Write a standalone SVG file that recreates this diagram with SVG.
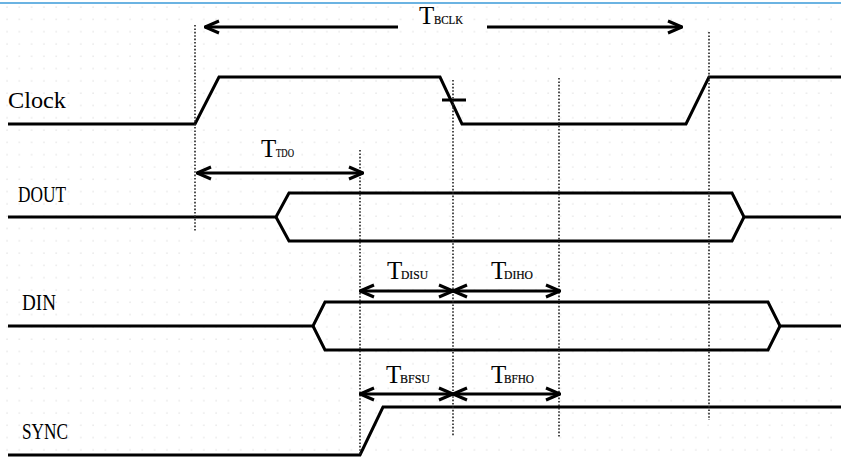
<svg xmlns="http://www.w3.org/2000/svg" width="841" height="458" viewBox="0 0 841 458">
<style>
.sig{fill:none;stroke:#000;stroke-width:3;stroke-linejoin:miter}
.dot{fill:none;stroke:#222;stroke-width:1.6;stroke-dasharray:1.6 1.8}
.arr{fill:none;stroke:#000;stroke-width:3}
.lbl{font-family:"Liberation Serif",serif;font-size:23px;fill:#000}
.T{font-family:"Liberation Serif",serif;font-size:25px;fill:#000}
.sub{font-family:"Liberation Serif",serif;font-size:13px;fill:#000;stroke:#000;stroke-width:0.2}
</style>
<defs>
<pattern id="grid" x="6" y="6" width="12.3" height="12.3" patternUnits="userSpaceOnUse">
<circle cx="1" cy="1" r="0.6" fill="#c8c8c8"/>
</pattern>
<marker id="ah" viewBox="-16 -8 17 16" refX="0" refY="0" markerWidth="17" markerHeight="16" markerUnits="userSpaceOnUse" orient="auto-start-reverse">
<path d="M-14,-6 L0,0 L-14,6" fill="none" stroke="#000" stroke-width="3"/>
</marker>
</defs>
<rect width="841" height="458" fill="#fff"/>
<rect width="841" height="458" fill="url(#grid)"/>
<line x1="0" y1="3" x2="841" y2="3" stroke="#3a9ad9" stroke-width="1.5"/>

<g id="clock">
<text class="lbl" x="8" y="108" textLength="58" lengthAdjust="spacingAndGlyphs">Clock</text>
<polyline class="sig" points="8,124 195,124 219,77 440,77 462,124 686,124 709,77 841,77"/>
<line class="sig" x1="442" y1="100" x2="466" y2="100"/>
</g>
<g id="dout">
<text class="lbl" x="18" y="202" textLength="48" lengthAdjust="spacingAndGlyphs">DOUT</text>
<polyline class="sig" points="8,217 276,217 289,193 732,193 744,217 841,217"/>
<polyline class="sig" points="276,217 289,241 732,241 744,217"/>
</g>
<g id="din">
<text class="lbl" x="22" y="310" textLength="34" lengthAdjust="spacingAndGlyphs">DIN</text>
<polyline class="sig" points="8,326 313,326 325,302 768,302 780,326 841,326"/>
<polyline class="sig" points="313,326 325,350 768,350 780,326"/>
</g>
<g id="sync">
<text class="lbl" x="22" y="439" textLength="46" lengthAdjust="spacingAndGlyphs">SYNC</text>
<polyline class="sig" points="8,455 360,455 383,407 841,407"/>
</g>

<g id="connectors">
<line class="dot" x1="195" y1="25" x2="195" y2="232"/>
<line class="dot" x1="709" y1="32" x2="709" y2="420"/>
<line class="dot" x1="453" y1="80" x2="453" y2="437"/>
<line class="dot" x1="360" y1="150" x2="360" y2="455"/>
<line class="dot" x1="559" y1="78" x2="559" y2="437"/>

<line class="arr" x1="205" y1="27" x2="398" y2="27" marker-start="url(#ah)"/>
<line class="arr" x1="487" y1="27" x2="682" y2="27" marker-end="url(#ah)"/>
<line class="arr" x1="197" y1="173" x2="363" y2="173" marker-start="url(#ah)" marker-end="url(#ah)"/>
<line class="arr" x1="360" y1="291" x2="453" y2="291" marker-start="url(#ah)" marker-end="url(#ah)"/>
<line class="arr" x1="453" y1="291" x2="560" y2="291" marker-start="url(#ah)" marker-end="url(#ah)"/>
<line class="arr" x1="360" y1="394" x2="453" y2="394" marker-start="url(#ah)" marker-end="url(#ah)"/>
<line class="arr" x1="453" y1="394" x2="560" y2="394" marker-start="url(#ah)" marker-end="url(#ah)"/>
</g>

<g id="labels">
<text class="T" x="419" y="24">T</text><text class="sub" x="434" y="24" textLength="29" lengthAdjust="spacingAndGlyphs">BCLK</text>
<text class="T" x="261" y="157">T</text><text class="sub" x="276" y="157" textLength="18" lengthAdjust="spacingAndGlyphs">TDO</text>
<text class="T" x="387" y="279">T</text><text class="sub" x="401" y="279" textLength="27" lengthAdjust="spacingAndGlyphs">DISU</text>
<text class="T" x="491" y="279">T</text><text class="sub" x="504" y="279" textLength="29" lengthAdjust="spacingAndGlyphs">DIHO</text>
<text class="T" x="386" y="383">T</text><text class="sub" x="400" y="383" textLength="30" lengthAdjust="spacingAndGlyphs">BFSU</text>
<text class="T" x="491" y="383">T</text><text class="sub" x="504" y="383" textLength="30" lengthAdjust="spacingAndGlyphs">BFHO</text>
</g>
</svg>
